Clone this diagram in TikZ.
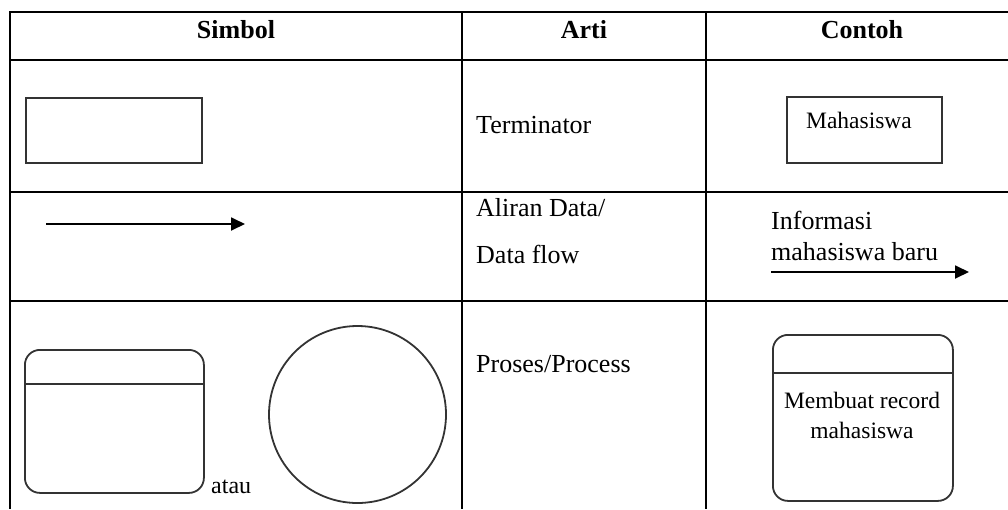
\documentclass[tikz,border=0pt]{standalone}
\usepackage{fontspec}
\setmainfont{Liberation Serif}
\usetikzlibrary{arrows.meta}
\begin{document}
\begin{tikzpicture}[x=1pt,y=-1pt,
  grid/.style={line width=2.6pt,black},
  symb/.style={draw=black!80,line width=1.8pt},
  flow/.style={line width=1.8pt,-{Triangle[length=14pt,width=13pt]}},
  head/.style={font=\fontsize{26}{30}\selectfont\bfseries,anchor=base},
  txt/.style={font=\fontsize{26}{30}\selectfont,anchor=base west,inner sep=0pt},
  small/.style={font=\fontsize{23.5}{30}\selectfont,inner sep=0pt}]
\useasboundingbox (0,0) rectangle (1008,509);
% table rules
\draw[grid] (1008,12) -- (10,12) -- (10,509);
\draw[grid] (10,60) -- (1008,60);
\draw[grid] (10,192) -- (1008,192);
\draw[grid] (10,301) -- (1008,301);
\draw[grid] (462,12) -- (462,509);
\draw[grid] (706,12) -- (706,509);
% header
\node[head] (hSimbol) at (236,38) {Simbol};
\node[head] (hArti) at (584,38) {Arti};
\node[head] (hContoh) at (862,38) {Contoh};
% terminator row
\node[symb,minimum width=176pt,minimum height=65pt,anchor=north west] (term) at (25,97) {};
\node[txt] (tArti) at (476,133) {Terminator};
\node[symb,minimum width=155pt,minimum height=66pt,anchor=north west] (mhs) at (786,96) {};
\node[small,anchor=base] (mhsText) at (859,128) {Mahasiswa};
% data flow row
\coordinate (fA) at (46,224);
\coordinate (fB) at (245,224);
\draw[flow] (fA) -- (fB);
\node[txt] (fArti1) at (476,216) {Aliran Data/};
\node[txt] (fArti2) at (476,263) {Data flow};
\node[txt] (fInfo1) at (771,229) {Informasi};
\node[txt] (fInfo2) at (771,260) {mahasiswa baru};
\coordinate (gA) at (771,272);
\coordinate (gB) at (969,272);
\draw[flow] (gA) -- (gB);
% process row
\node[symb,rounded corners=15pt,minimum width=179pt,minimum height=143pt,anchor=north west] (procA) at (24,349) {};
\draw[symb] (procA.west |- 0,384) -- (procA.east |- 0,384);
\node[txt,font=\fontsize{24}{30}\selectfont] (atau) at (211,493) {atau};
\node[symb,circle,minimum size=177pt,inner sep=0pt] (procB) at (357.5,414.5) {};
\node[txt] (pArti) at (476,372) {Proses/Process};
\node[symb,rounded corners=15pt,minimum width=180pt,minimum height=166pt,anchor=north west] (procC) at (772,334) {};
\draw[symb] (procC.west |- 0,373) -- (procC.east |- 0,373);
\node[small,anchor=base] (pC1) at (862,408) {Membuat record};
\node[small,anchor=base] (pC2) at (862,438) {mahasiswa};
\end{tikzpicture}
\end{document}
